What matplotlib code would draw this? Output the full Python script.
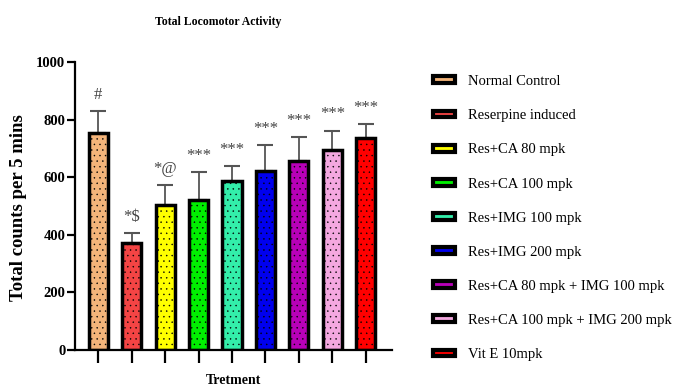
import matplotlib
matplotlib.use("Agg")
import matplotlib.pyplot as plt
from matplotlib.patches import Patch

groups = ["Normal Control", "Reserpine induced", "Res+CA 80 mpk", "Res+CA 100 mpk",
          "Res+IMG 100 mpk", "Res+IMG 200 mpk", "Res+CA 80 mpk + IMG 100 mpk",
          "Res+CA 100 mpk + IMG 200 mpk", "Vit E 10mpk"]
means = [752, 372, 503, 521, 587, 620, 656, 694, 736]
sem = [79, 35, 70, 97, 53, 93, 85, 68, 49]
marks = ["#", "*$", "*@", "***", "***", "***", "***", "***", "***"]
colors = ["#F4B47A", "#F44444", "#FFFF00", "#00F000", "#33EEAA",
          "#0000EE", "#B800B8", "#F4A8E0", "#FF0000"]

plt.rcParams['font.family'] = ['Liberation Serif', 'DejaVu Serif']
plt.rcParams['hatch.color'] = 'black'
plt.rcParams['hatch.linewidth'] = 0.3

fig = plt.figure(figsize=(6.78, 3.91), dpi=100)
ax = fig.add_axes([0.1106, 0.1049, 0.4676, 0.7366])

x = list(range(len(groups)))
ax.errorbar(x, means, yerr=[[0] * len(x), sem], fmt='none', ecolor='#555555',
            elinewidth=1.3, capsize=5.5, capthick=1.5, zorder=1)
ax.bar(x, means, width=0.57, color=colors, edgecolor='black', linewidth=2.5,
       hatch='...', zorder=2)

for xi, m, s, t in zip(x, means, sem, marks):
    ax.text(xi, m + s + 28, t, ha='center', va='bottom', fontsize=12, color='#444444')

ax.set_xlim(-0.69, 8.78)
ax.set_ylim(0, 1000)
ax.set_yticks([0, 200, 400, 600, 800, 1000])
ax.set_xticks(x)
ax.set_xticklabels([])
for lab in ax.get_yticklabels():
    lab.set_fontweight('bold')
ax.tick_params(axis='y', length=6, width=1.6, labelsize=10.5, pad=1)
ax.tick_params(axis='x', length=9, width=1.6)
ax.spines['top'].set_visible(False)
ax.spines['right'].set_visible(False)
ax.spines['left'].set_linewidth(1.6)
ax.spines['bottom'].set_linewidth(1.6)

fig.text(0.322, 0.944, "Total Locomotor Activity", ha='center', va='center',
         fontsize=8.5, fontweight='bold')
fig.text(0.028, 0.47, "Total counts per 5 mins", ha='center', va='center',
         rotation=90, fontsize=13.5, fontweight='bold')
fig.text(0.344, 0.026, "Tretment", ha='center', va='center', fontsize=10, fontweight='bold')

handles = [Patch(facecolor=c, edgecolor='black', linewidth=3) for c in colors]
fig.legend(handles, groups, loc='upper left', bbox_to_anchor=(0.6386, 0.808),
           frameon=False, borderpad=0, borderaxespad=0, fontsize=10.5,
           handlelength=1.5, handleheight=0.35, handletextpad=0.9, labelspacing=1.45)

fig.savefig("out.png", dpi=100)
